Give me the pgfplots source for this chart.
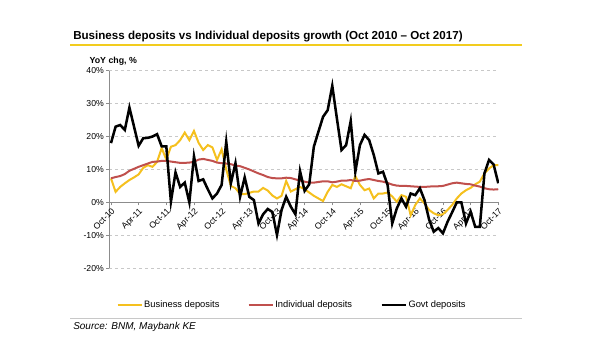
\documentclass[border=0pt]{standalone}
\usepackage{pgfplots}
\usepackage{pgfplotstable}
\pgfplotsset{compat=1.18}
\usepackage{fontspec}
\setmainfont{Liberation Sans}
\definecolor{bizyellow}{RGB}{245,192,30}
\definecolor{indred}{RGB}{192,80,77}
\definecolor{ruleyellow}{RGB}{242,204,30}
\definecolor{gridgray}{RGB}{200,200,200}
\definecolor{axgray}{RGB}{140,140,140}
\pgfplotstableread{
i b ind g
0 7.3 7.3 18
1 3.2 7.7 23
2 4.7 8.0 23.5
3 5.8 8.6 22
4 6.8 9.6 28.8
5 7.6 10.2 23
6 8.5 10.8 17.2
7 10.5 11.3 19.5
8 11.3 11.8 19.6
9 10.8 12.3 20
10 12.3 12.4 20.7
11 16.5 12.6 17
12 13 12.6 17
13 16.9 12.4 0.2
14 17.4 12.2 9.1
15 18.9 12.0 4.7
16 21.2 12.0 6
17 18.9 12.1 0
18 21.7 12.3 14
19 18.1 13.0 6.5
20 15.9 13.2 7
21 17.4 12.9 4
22 16.7 12.6 1.2
23 12.9 12.1 2.7
24 16.1 11.9 5.3
25 10 11.8 18.4
26 5 11.6 5.8
27 4.3 11.2 11.9
28 2.6 11.0 1.7
29 2.5 10.5 7.6
30 2.9 10.0 1.7
31 3.3 9.4 0.7
32 3.3 8.8 -6.4
33 4.4 8.3 -3.6
34 3.6 7.7 -2
35 2.1 7.4 -2.9
36 1.2 7.3 -9.9
37 2.0 7.3 -2.3
38 6.5 7.5 1.7
39 3.3 7.4 -1.3
40 4.0 7.0 -3.6
41 4.7 6.6 9.5
42 4.0 6.3 3.5
43 3.0 6.0 5.5
44 2.0 6.0 16.9
45 1.2 6.2 21.5
46 0.4 6.4 26
47 3.2 6.4 28
48 5.3 6.1 35.4
49 4.7 6.3 25.5
50 5.5 6.6 15.9
51 4.9 6.6 17.4
52 4.3 6.8 24.7
53 8.0 6.5 9.3
54 5.3 6.6 17.4
55 3.7 6.9 20.5
56 4.2 7.1 18.9
57 1.2 6.8 14.4
58 2.7 6.5 8.8
59 2.7 6.3 9.3
60 3.0 5.9 5.3
61 1.8 5.4 -6.4
62 0.2 5.1 -1.8
63 2.2 5.0 1.2
64 1.7 5.0 -1.3
65 -3.9 4.9 2.7
66 -0.8 4.8 2.2
67 1.2 4.7 4.3
68 -0.3 4.7 0.7
69 -2.3 4.8 -5.2
70 -3.3 4.9 -8.9
71 -3.9 4.9 -7.8
72 -3.6 5.0 -9.4
73 -2.3 5.4 -5.9
74 -0.8 5.8 -3.0
75 1.2 6.0 0
76 2.7 5.8 0
77 3.7 5.6 -6.4
78 4.4 5.5 -2.8
79 5.5 5.1 -7.4
80 6.3 4.8 -7.4
81 8.8 4.3 8.8
82 10.3 4.0 12.9
83 11.3 3.9 11.5
84 11.3 4.0 5.8
}\deposits
\begin{document}
\begin{tikzpicture}
\path[use as bounding box] (0,0) rectangle (450pt,270pt);
% title
\node[anchor=base west, inner sep=0pt, font=\fontsize{8.7}{10}\selectfont\bfseries] at (54.75pt,240.5pt) {Business deposits vs Individual deposits growth (Oct 2010 – Oct 2017)};
\draw[ruleyellow, line width=1.4pt] (52.5pt,236pt) -- (391.5pt,236pt);
\node[anchor=base west, inner sep=0pt, font=\fontsize{6.6}{8}\selectfont\bfseries] at (67pt,222.5pt) {YoY chg, \%};
% footer
\draw[gridgray, line width=0.7pt] (52.5pt,31.3pt) -- (391.5pt,31.3pt);
\node[anchor=west, inner sep=0pt, font=\fontsize{7.5}{9}\selectfont\itshape] at (54.75pt,25pt) {Source: BNM, Maybank KE};
\begin{axis}[
  at={(81.75pt,68.8pt)}, anchor=south west,
  scale only axis, width=292.5pt, height=148.2pt,
  xmin=-0.43, xmax=84.16, ymin=-20, ymax=40,
  axis x line=middle, axis y line=left,
  x axis line style={-, axgray, line width=0.6pt},
  y axis line style={-, axgray, line width=0.6pt},
  xtick={0,6,...,84},
  xticklabels={Oct-10,Apr-11,Oct-11,Apr-12,Oct-12,Apr-13,Oct-13,Apr-14,Oct-14,Apr-15,Oct-15,Apr-16,Oct-16,Apr-17,Oct-17},
  ytick={-20,-10,0,10,20,30,40},
  yticklabels={-20\%,-10\%,0\%,10\%,20\%,30\%,40\%},
  tick align=outside, major tick length=2.2pt,
  tick style={axgray, line width=0.5pt},
  x tick label style={rotate=45, anchor=north east, inner sep=1pt, font=\fontsize{6.5}{8}\selectfont},
  y tick label style={font=\fontsize{6.5}{8}\selectfont, inner sep=1.5pt},
  ymajorgrids, xmajorgrids=false,
  major grid style={gridgray, line width=0.6pt, dash pattern=on 2.5pt off 2pt},
  legend columns=3,
  legend style={at={(0.469,-0.186)}, anchor=center, draw=none, fill=none,
    font=\fontsize{7}{8}\selectfont, inner sep=0pt,
    /tikz/every even column/.append style={column sep=20pt},
    nodes={inner sep=1.2pt}},
  legend image code/.code={\draw[#1] (0pt,0pt) -- (18pt,0pt);},
]
\addplot[bizyellow, line width=1.5pt] table[x=i, y=b] {\deposits};
\addlegendentry{Business deposits}
\addplot[indred, line width=1.5pt] table[x=i, y=ind] {\deposits};
\addlegendentry{Individual deposits}
\addplot[black, line width=1.9pt] table[x=i, y=g] {\deposits};
\addlegendentry{Govt deposits}
\end{axis}
\end{tikzpicture}
\end{document}
